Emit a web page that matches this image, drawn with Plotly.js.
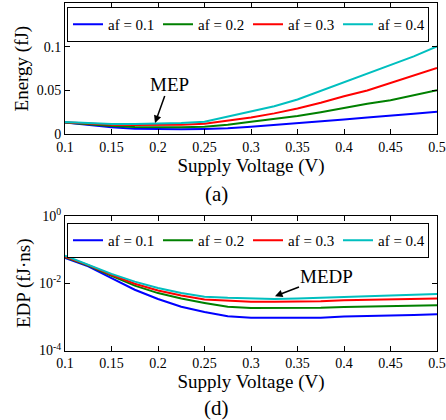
<!DOCTYPE html>
<html>
<head>
<meta charset="utf-8">
<script src="https://cdn.plot.ly/plotly-3.0.1.min.js"></script>
<style>html,body{margin:0;padding:0;background:#fff;}#chart{width:446px;height:420px;}</style>
</head>
<body>
<div id="chart"></div>
<script>
// Supply voltage (V)
const voltage = [0.1,0.125,0.15,0.175,0.2,0.225,0.25,0.275,0.3,0.325,0.35,0.375,0.4,0.425,0.45,0.475,0.5];
const seriesNames = ['af = 0.1','af = 0.2','af = 0.3','af = 0.4'];
const seriesColors = ['#0000FF','#008000','#FF0000','#00BFBF'];

// Energy (fJ)
const energyAf01 = [0.0136,0.0105,0.0080,0.0064,0.0057,0.0057,0.0060,0.0068,0.0087,0.0106,0.0125,0.0148,0.0170,0.0193,0.0211,0.0234,0.0257];
const energyAf02 = [0.0136,0.0115,0.0094,0.0083,0.0080,0.0080,0.0087,0.0110,0.0143,0.0174,0.0208,0.0253,0.0303,0.0348,0.0390,0.0443,0.0503];
const energyAf03 = [0.0138,0.0120,0.0110,0.0105,0.0105,0.0110,0.0120,0.0155,0.0193,0.0239,0.0295,0.0360,0.0435,0.0500,0.0587,0.0666,0.0757];
const energyAf04 = [0.0140,0.0125,0.0117,0.0117,0.0120,0.0128,0.0143,0.0200,0.0265,0.0320,0.0398,0.0495,0.0598,0.0690,0.0788,0.0890,0.1005];

// EDP (fJ·ns)
const edpAf01 = [0.057,0.0317,0.0141,0.0064,0.0034,0.0020,0.00139,0.00105,0.00094,0.00093,0.00093,0.00094,0.00102,0.00108,0.00110,0.00114,0.00119];
const edpAf02 = [0.060,0.0335,0.0166,0.0085,0.0051,0.0035,0.0026,0.0020,0.00185,0.00183,0.00183,0.00186,0.00197,0.00205,0.0021,0.00215,0.0022];
const edpAf03 = [0.062,0.0345,0.0178,0.0097,0.0061,0.0043,0.0033,0.0030,0.0028,0.0028,0.0028,0.0029,0.0031,0.0032,0.0033,0.0034,0.0035];
const edpAf04 = [0.0655,0.0357,0.0190,0.0112,0.0072,0.0051,0.0040,0.0037,0.0035,0.0034,0.0035,0.0037,0.0039,0.0041,0.0043,0.0045,0.0048];

const xTickVals = [0.1,0.15,0.2,0.25,0.3,0.35,0.4,0.45,0.5];
const xTickText = ['0.1','0.15','0.2','0.25','0.3','0.35','0.4','0.45','0.5'];
const energyTickVals = [0,0.05,0.1];
const energyTickText = ['0','0.05','0.1'];
const edpTickVals = [1e-4,1e-2,1];
const edpTickText = ['10<sup>-4</sup>','10<sup>-2</sup>','10<sup>0</sup>'];

const energySeries = [energyAf01,energyAf02,energyAf03,energyAf04];
const edpSeries = [edpAf01,edpAf02,edpAf03,edpAf04];

const FONT = 'Liberation Serif, Times New Roman, serif';
const traces = [];
energySeries.forEach((ys,i)=>{
  traces.push({x:voltage,y:ys,type:'scatter',mode:'lines',name:seriesNames[i],
    line:{color:seriesColors[i],width:2},xaxis:'x',yaxis:'y',legend:'legend'});
});
edpSeries.forEach((ys,i)=>{
  traces.push({x:voltage,y:ys,type:'scatter',mode:'lines',name:seriesNames[i],
    line:{color:seriesColors[i],width:2},xaxis:'x2',yaxis:'y2',legend:'legend2'});
});

const axCommon = {showgrid:false,zeroline:false,showline:true,linecolor:'#000',linewidth:1,
  mirror:'ticks',ticks:'inside',ticklen:5,tickcolor:'#000',tickfont:{family:FONT,size:14,color:'#000'}};

const H = 420;
const legendCommon = {orientation:'h',xanchor:'left',yanchor:'top',bgcolor:'#fff',bordercolor:'#000',
  borderwidth:1,font:{family:FONT,size:15,color:'#000'},entrywidth:45,entrywidthmode:'pixels',
  tracegroupgap:0,itemwidth:30};

const layout = {
  width:446,height:420,paper_bgcolor:'#fff',plot_bgcolor:'#fff',
  margin:{l:65,r:9,t:0,b:0},
  font:{family:FONT,color:'#000'},
  xaxis:Object.assign({},axCommon,{domain:[0,1],anchor:'y',range:[0.1,0.5],tickvals:xTickVals,ticktext:xTickText,
    title:{text:'Supply Voltage (V)',font:{family:FONT,size:19,color:'#000'},standoff:2}}),
  yaxis:Object.assign({},axCommon,{domain:[1-134.3/H,1-3/H],anchor:'x',range:[0,0.15],tickvals:energyTickVals,ticktext:energyTickText,
    title:{text:'Energy (fJ)',font:{family:FONT,size:19,color:'#000'},standoff:3}}),
  xaxis2:Object.assign({},axCommon,{domain:[0,1],anchor:'y2',range:[0.1,0.5],tickvals:xTickVals,ticktext:xTickText,
    title:{text:'Supply Voltage (V)',font:{family:FONT,size:19,color:'#000'},standoff:2}}),
  yaxis2:Object.assign({},axCommon,{domain:[1-350.5/H,1-216/H],anchor:'x2',type:'log',range:[-4,0],tickvals:edpTickVals,ticktext:edpTickText,
    title:{text:'EDP (fJ·ns)',font:{family:FONT,size:19,color:'#000'},standoff:3}}),
  showlegend:true,
  legend:Object.assign({},legendCommon,{x:2/372,y:1-7/H}),
  legend2:Object.assign({},legendCommon,{x:2/372,y:1-223/H}),
  annotations:[
    {xref:'x',yref:'y',x:0.1968,y:0.0128,ax:14,ay:-39,text:'MEP',showarrow:true,arrowhead:2,arrowsize:1,arrowwidth:1.5,arrowcolor:'#000',
      font:{family:FONT,size:19,color:'#000'}},
    {xref:'x2',yref:'y2',x:0.3258,y:Math.log10(0.0041),ax:52,ay:-20,text:'MEDP',showarrow:true,arrowhead:2,arrowsize:1,arrowwidth:1.5,arrowcolor:'#000',
      font:{family:FONT,size:19,color:'#000'}},
    {xref:'paper',yref:'paper',x:(216-65)/372,y:1-194/H,xanchor:'center',yanchor:'middle',showarrow:false,text:'(a)',
      font:{family:FONT,size:21,color:'#000'}},
    {xref:'paper',yref:'paper',x:(216-65)/372,y:1-408/H,xanchor:'center',yanchor:'middle',showarrow:false,text:'(d)',
      font:{family:FONT,size:21,color:'#000'}}
  ]
};

Plotly.newPlot('chart',traces,layout,{displayModeBar:false,staticPlot:true});
</script>
</body>
</html>
